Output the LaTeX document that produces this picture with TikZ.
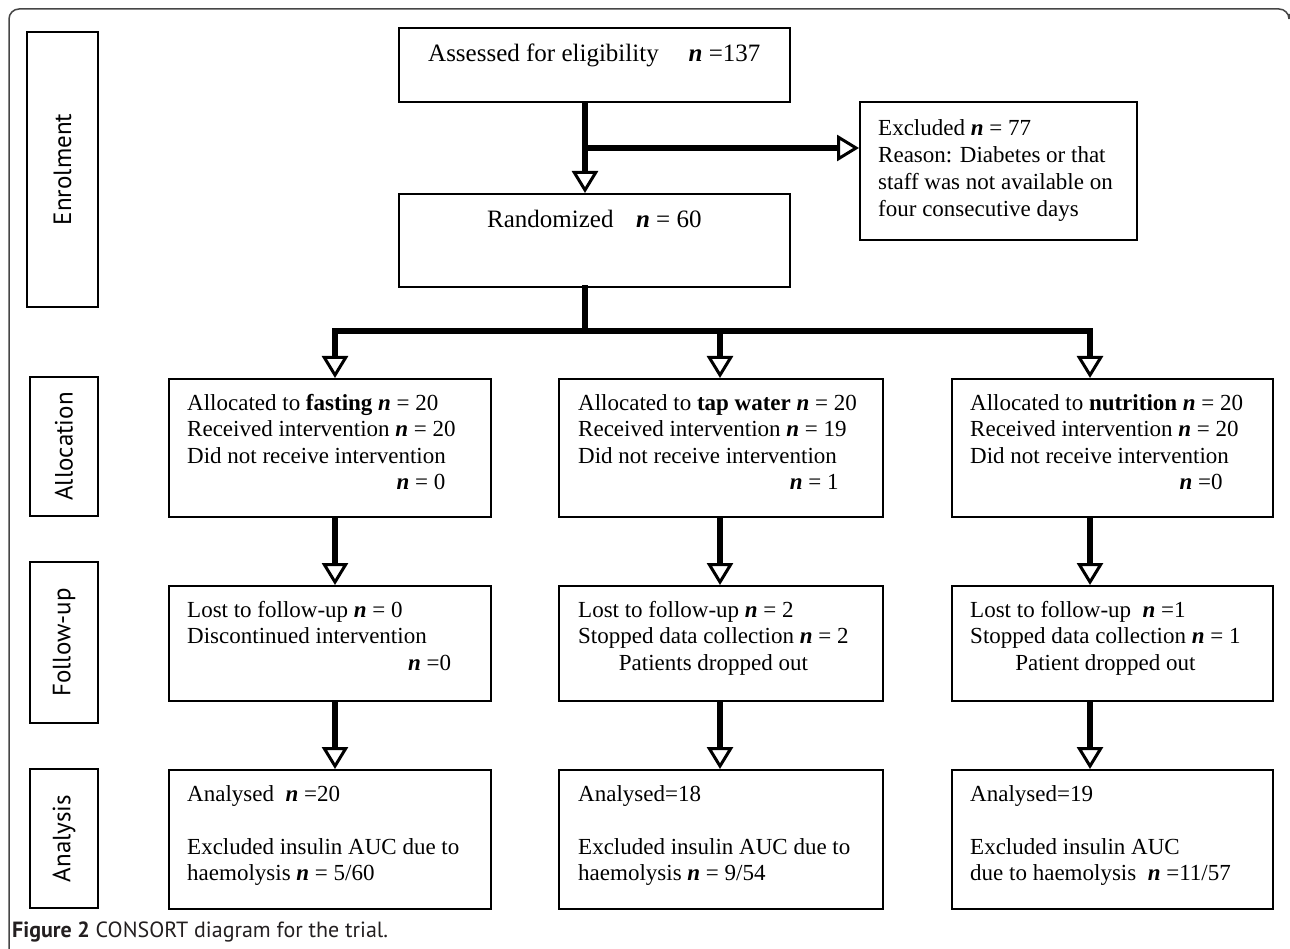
\documentclass[tikz,border=0pt]{standalone}
\usepackage{fontspec}
\setmainfont{Liberation Serif}
\newfontfamily\phasefont{PT Sans}
\usetikzlibrary{arrows.meta}

\definecolor{ccframe}{RGB}{70,70,70}
\definecolor{cccaption}{RGB}{35,31,32}

\newcommand{\bn}{\textbf{\textit{n}}}

\tikzset{
  box/.style={draw, line width=1.7pt, inner sep=0pt, anchor=north west},
  boxtext/.style={inner sep=0pt, anchor=north west, font=\fontsize{23}{26.3}\selectfont},
  toptext/.style={inner sep=0pt, anchor=north, font=\fontsize{25}{28}\selectfont},
  phase/.style={draw, line width=1.7pt, inner sep=0pt, rotate=90, font=\phasefont\fontsize{25}{28}\selectfont},
  flow/.style={line width=6pt, -{Triangle[open, length=22pt, width=26pt, line width=3pt]}},
  trunk/.style={line width=6pt, line cap=rect}
}

\begin{document}
\begin{tikzpicture}[x=1pt, y=-1pt]

  \useasboundingbox (0,0) rectangle (1290,949);

  % Frame
  \draw[ccframe, line width=1.5pt, rounded corners=10pt] (9,949) -- (9,9) -- (1289,9) -- (1289,14);

  % Phases
  \node[phase, minimum width=275pt, minimum height=71pt] (enrol) at (62.5,169.5) {Enrolment};
  \node[phase, minimum width=139pt, minimum height=68pt] (allocp) at (64,446.5) {Allocation};
  \node[phase, minimum width=161pt, minimum height=68pt] (followp) at (64,642.5) {Follow-up};
  \node[phase, minimum width=139pt, minimum height=68pt] (analp) at (64,838.5) {Analysis};

  % Enrolment
  \node[box, minimum width=391pt, minimum height=74pt] (assess) at (398,27) {};
  \node[toptext] (assesstxt) at ([shift={(0,17)}]assess.north) {Assessed for eligibility\hspace{1.2em}\bn{} =137};
  \node[box, minimum width=391pt, minimum height=93pt] (rand) at (398,193) {};
  \node[toptext] (randtxt) at ([shift={(0,17)}]rand.north) {Randomized\hspace{0.9em}\bn{} = 60};
  \node[box, minimum width=277pt, minimum height=138pt] (excl) at (859,101) {};
  \node[boxtext, font=\fontsize{23}{27}\selectfont] (excltxt) at ([shift={(19,15)}]excl.north west) {\begin{tabular}{@{}l@{}}Excluded \bn{} = 77\\ Reason: Diabetes or that\\ staff was not available on\\ four consecutive days\end{tabular}};

  % Allocation
  \node[box, minimum width=322pt, minimum height=138pt] (alloc1) at (168,378) {};
  \node[boxtext] (alloc1txt) at ([shift={(19,14)}]alloc1.north west) {\begin{tabular}{@{}l@{}}Allocated to \textbf{fasting} \bn{} = 20\\ Received intervention \bn{} = 20\\ Did not receive intervention\\ \hspace*{9.1em}\bn{} = 0\end{tabular}};
  \node[box, minimum width=324pt, minimum height=138pt] (alloc2) at (558,378) {};
  \node[boxtext] (alloc2txt) at ([shift={(20,14)}]alloc2.north west) {\begin{tabular}{@{}l@{}}Allocated to \textbf{tap water} \bn{} = 20\\ Received intervention \bn{} = 19\\ Did not receive intervention\\ \hspace*{9.2em}\bn{} = 1\end{tabular}};
  \node[box, minimum width=321pt, minimum height=138pt] (alloc3) at (951,378) {};
  \node[boxtext] (alloc3txt) at ([shift={(19,14)}]alloc3.north west) {\begin{tabular}{@{}l@{}}Allocated to \textbf{nutrition} \bn{} = 20\\ Received intervention \bn{} = 20\\ Did not receive intervention\\ \hspace*{9.1em}\bn{} =0\end{tabular}};

  % Follow-up
  \node[box, minimum width=322pt, minimum height=115pt] (follow1) at (168,585) {};
  \node[boxtext] (follow1txt) at ([shift={(19,14)}]follow1.north west) {\begin{tabular}{@{}l@{}}Lost to follow-up \bn{} = 0\\ Discontinued intervention\\ \hspace*{9.6em}\bn{} =0\end{tabular}};
  \node[box, minimum width=324pt, minimum height=115pt] (follow2) at (558,585) {};
  \node[boxtext] (follow2txt) at ([shift={(20,14)}]follow2.north west) {\begin{tabular}{@{}l@{}}Lost to follow-up \bn{} = 2\\ Stopped data collection \bn{} = 2\\ \multicolumn{1}{@{}c@{}}{Patients dropped out}\end{tabular}};
  \node[box, minimum width=321pt, minimum height=115pt] (follow3) at (951,585) {};
  \node[boxtext] (follow3txt) at ([shift={(19,14)}]follow3.north west) {\begin{tabular}{@{}l@{}}Lost to follow-up\ \ \bn{} =1\\ Stopped data collection \bn{} = 1\\ \multicolumn{1}{@{}c@{}}{Patient dropped out}\end{tabular}};

  % Analysis
  \node[box, minimum width=322pt, minimum height=139pt] (anal1) at (168,769) {};
  \node[boxtext] (anal1txt) at ([shift={(19,14)}]anal1.north west) {\begin{tabular}{@{}l@{}}Analysed\ \ \bn{} =20\\[26.3pt] Excluded insulin AUC due to\\ haemolysis \bn{} = 5/60\end{tabular}};
  \node[box, minimum width=324pt, minimum height=139pt] (anal2) at (558,769) {};
  \node[boxtext] (anal2txt) at ([shift={(20,14)}]anal2.north west) {\begin{tabular}{@{}l@{}}Analysed=18\\[26.3pt] Excluded insulin AUC due to\\ haemolysis \bn{} = 9/54\end{tabular}};
  \node[box, minimum width=321pt, minimum height=139pt] (anal3) at (951,769) {};
  \node[boxtext] (anal3txt) at ([shift={(19,14)}]anal3.north west) {\begin{tabular}{@{}l@{}}Analysed=19\\[26.3pt] Excluded insulin AUC\\ due to haemolysis\ \ \bn{} =11/57\end{tabular}};

  % Enrolment arrows
  \coordinate (split) at (585,148);
  \draw[flow] (split |- assess.south) -- (split |- rand.north);
  \draw[flow] (split) -- (excl.west |- split);

  % Fork to the three arms
  \coordinate (fork) at (585,331);
  \coordinate (c1) at (335,331);
  \coordinate (c2) at (720,331);
  \coordinate (c3) at (1090,331);
  \draw[trunk] (fork |- rand.south) -- (fork);
  \draw[trunk] (c1) -- (c3);
  \draw[flow] (c1) -- (c1 |- alloc1.north);
  \draw[flow] (c2) -- (c2 |- alloc2.north);
  \draw[flow] (c3) -- (c3 |- alloc3.north);

  % Arms
  \draw[flow] (c1 |- alloc1.south) -- (c1 |- follow1.north);
  \draw[flow] (c2 |- alloc2.south) -- (c2 |- follow2.north);
  \draw[flow] (c3 |- alloc3.south) -- (c3 |- follow3.north);
  \draw[flow] (c1 |- follow1.south) -- (c1 |- anal1.north);
  \draw[flow] (c2 |- follow2.south) -- (c2 |- anal2.north);
  \draw[flow] (c3 |- follow3.south) -- (c3 |- anal3.north);

  % Caption
  \node[anchor=west, inner sep=0pt, text=cccaption, font=\phasefont\fontsize{22}{25}\selectfont] (caption) at (12,932) {\textbf{Figure 2} CONSORT diagram for the trial.};

\end{tikzpicture}
\end{document}
